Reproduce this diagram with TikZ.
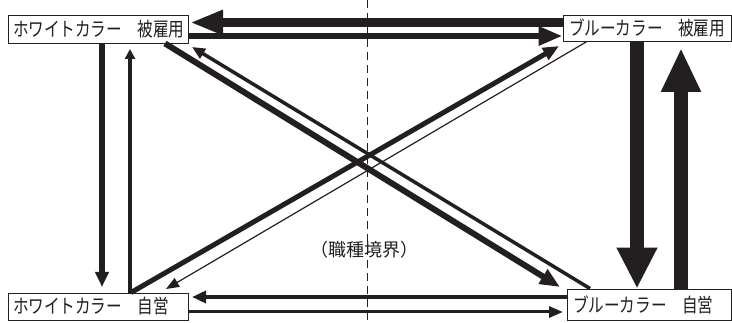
\documentclass[tikz,border=0pt]{standalone}
\usepackage{fontspec}
\setmainfont{Noto Sans CJK JP}
\newfontfamily\boxfont[FakeStretch=0.8]{Noto Sans CJK JP}
\newfontfamily\lblfont{Noto Sans CJK JP}
\usetikzlibrary{arrows.meta}
\definecolor{ink}{HTML}{231F20}
\begin{document}
\begin{tikzpicture}[x=1pt,y=-1pt,
  box/.style={draw=ink, line width=0.9pt, fill=white, inner ysep=0pt, inner xsep=5pt,
    font=\boxfont\fontsize{19.5pt}{20pt}\selectfont, text=ink, align=left},
  conn/.style={draw=ink, line cap=butt},
  tri/.style 2 args={-{Triangle[length=#1,width=#2]}},
  lbl/.style={font=\lblfont\fontsize{18pt}{20pt}\selectfont, text=ink, inner sep=0pt}
]
\useasboundingbox (0,0) rectangle (732,323);
\fill[white] (0,0) rectangle (732,323);

% boundary line
\coordinate (dtop) at (367,0);
\coordinate (dbot) at (367,323);
\draw[ink, line width=0.8pt, dash pattern=on 8pt off 5pt] (dtop) -- (dbot);
\node[lbl] (boundary) at (364,250) {（職種境界）};

% boxes
\node[box, text width=170pt, minimum height=28pt] (WE) at (98,29) {ホワイトカラー　被雇用};
\node[box, inner xsep=6pt, text width=156pt, minimum height=26pt] (BE) at (647,28) {ブルーカラー　被雇用};
\node[box, text width=170pt, minimum height=27pt] (WS) at (98,306.5) {ホワイトカラー　自営};
\node[box, inner xsep=6pt, text width=152pt, minimum height=31pt] (BS) at (649,304.5) {ブルーカラー　自営};

% tip coordinates
\coordinate (tTop) at (190,22.5);
\coordinate (tBEup) at (681,48);
\coordinate (tWSdown) at (102,287);
\coordinate (tWEup) at (130,49);
\coordinate (tWSleft) at (192,297);
\coordinate (tBSright) at (563,312);
\coordinate (tD1) at (560,287);
\coordinate (tD2) at (192,47);
\coordinate (tD3) at (559,46);
\coordinate (tD4) at (166,289);

% top pair
\draw[conn, line width=9pt, tri={33pt}{23pt}] (BE.west |- 0,22.5) -- (tTop);
\draw[conn, line width=6pt, tri={24pt}{18pt}] (WE.east |- 0,36) -- (BE.west |- 0,36);

% right pair
\draw[conn, line width=14pt, tri={41pt}{38pt}] (BE.south -| 637,0) -- (BS.north -| 637,0);
\draw[conn, line width=14pt, tri={44pt}{37pt}] (BS.north -| 681,0) -- (tBEup);

% left pair
\draw[conn, line width=6pt, tri={15pt}{13pt}] (WE.south -| 102,0) -- (tWSdown);
\draw[conn, line width=4pt, tri={10pt}{10pt}] (WS.north -| 130,0) -- (tWEup);

% bottom pair
\draw[conn, line width=4pt, tri={14pt}{12pt}] (BS.west |- 0,297) -- (tWSleft);
\draw[conn, line width=3pt, tri={14pt}{11pt}] (WS.east |- 0,312) -- (tBSright);

% diagonals
\draw[conn, line width=6pt, tri={20pt}{16pt}] (WE.south -| 165,0) -- (tD1);
\draw[conn, line width=3.5pt, tri={13pt}{11pt}] (BS.north -| 590,0) -- (tD2);
\draw[conn, line width=5pt, tri={16pt}{13pt}] (WS.north -| 131,0) -- (tD3);
\draw[conn, line width=1.2pt, tri={13pt}{10pt}] (BE.south -| 587,0) -- (tD4);
\end{tikzpicture}
\end{document}
